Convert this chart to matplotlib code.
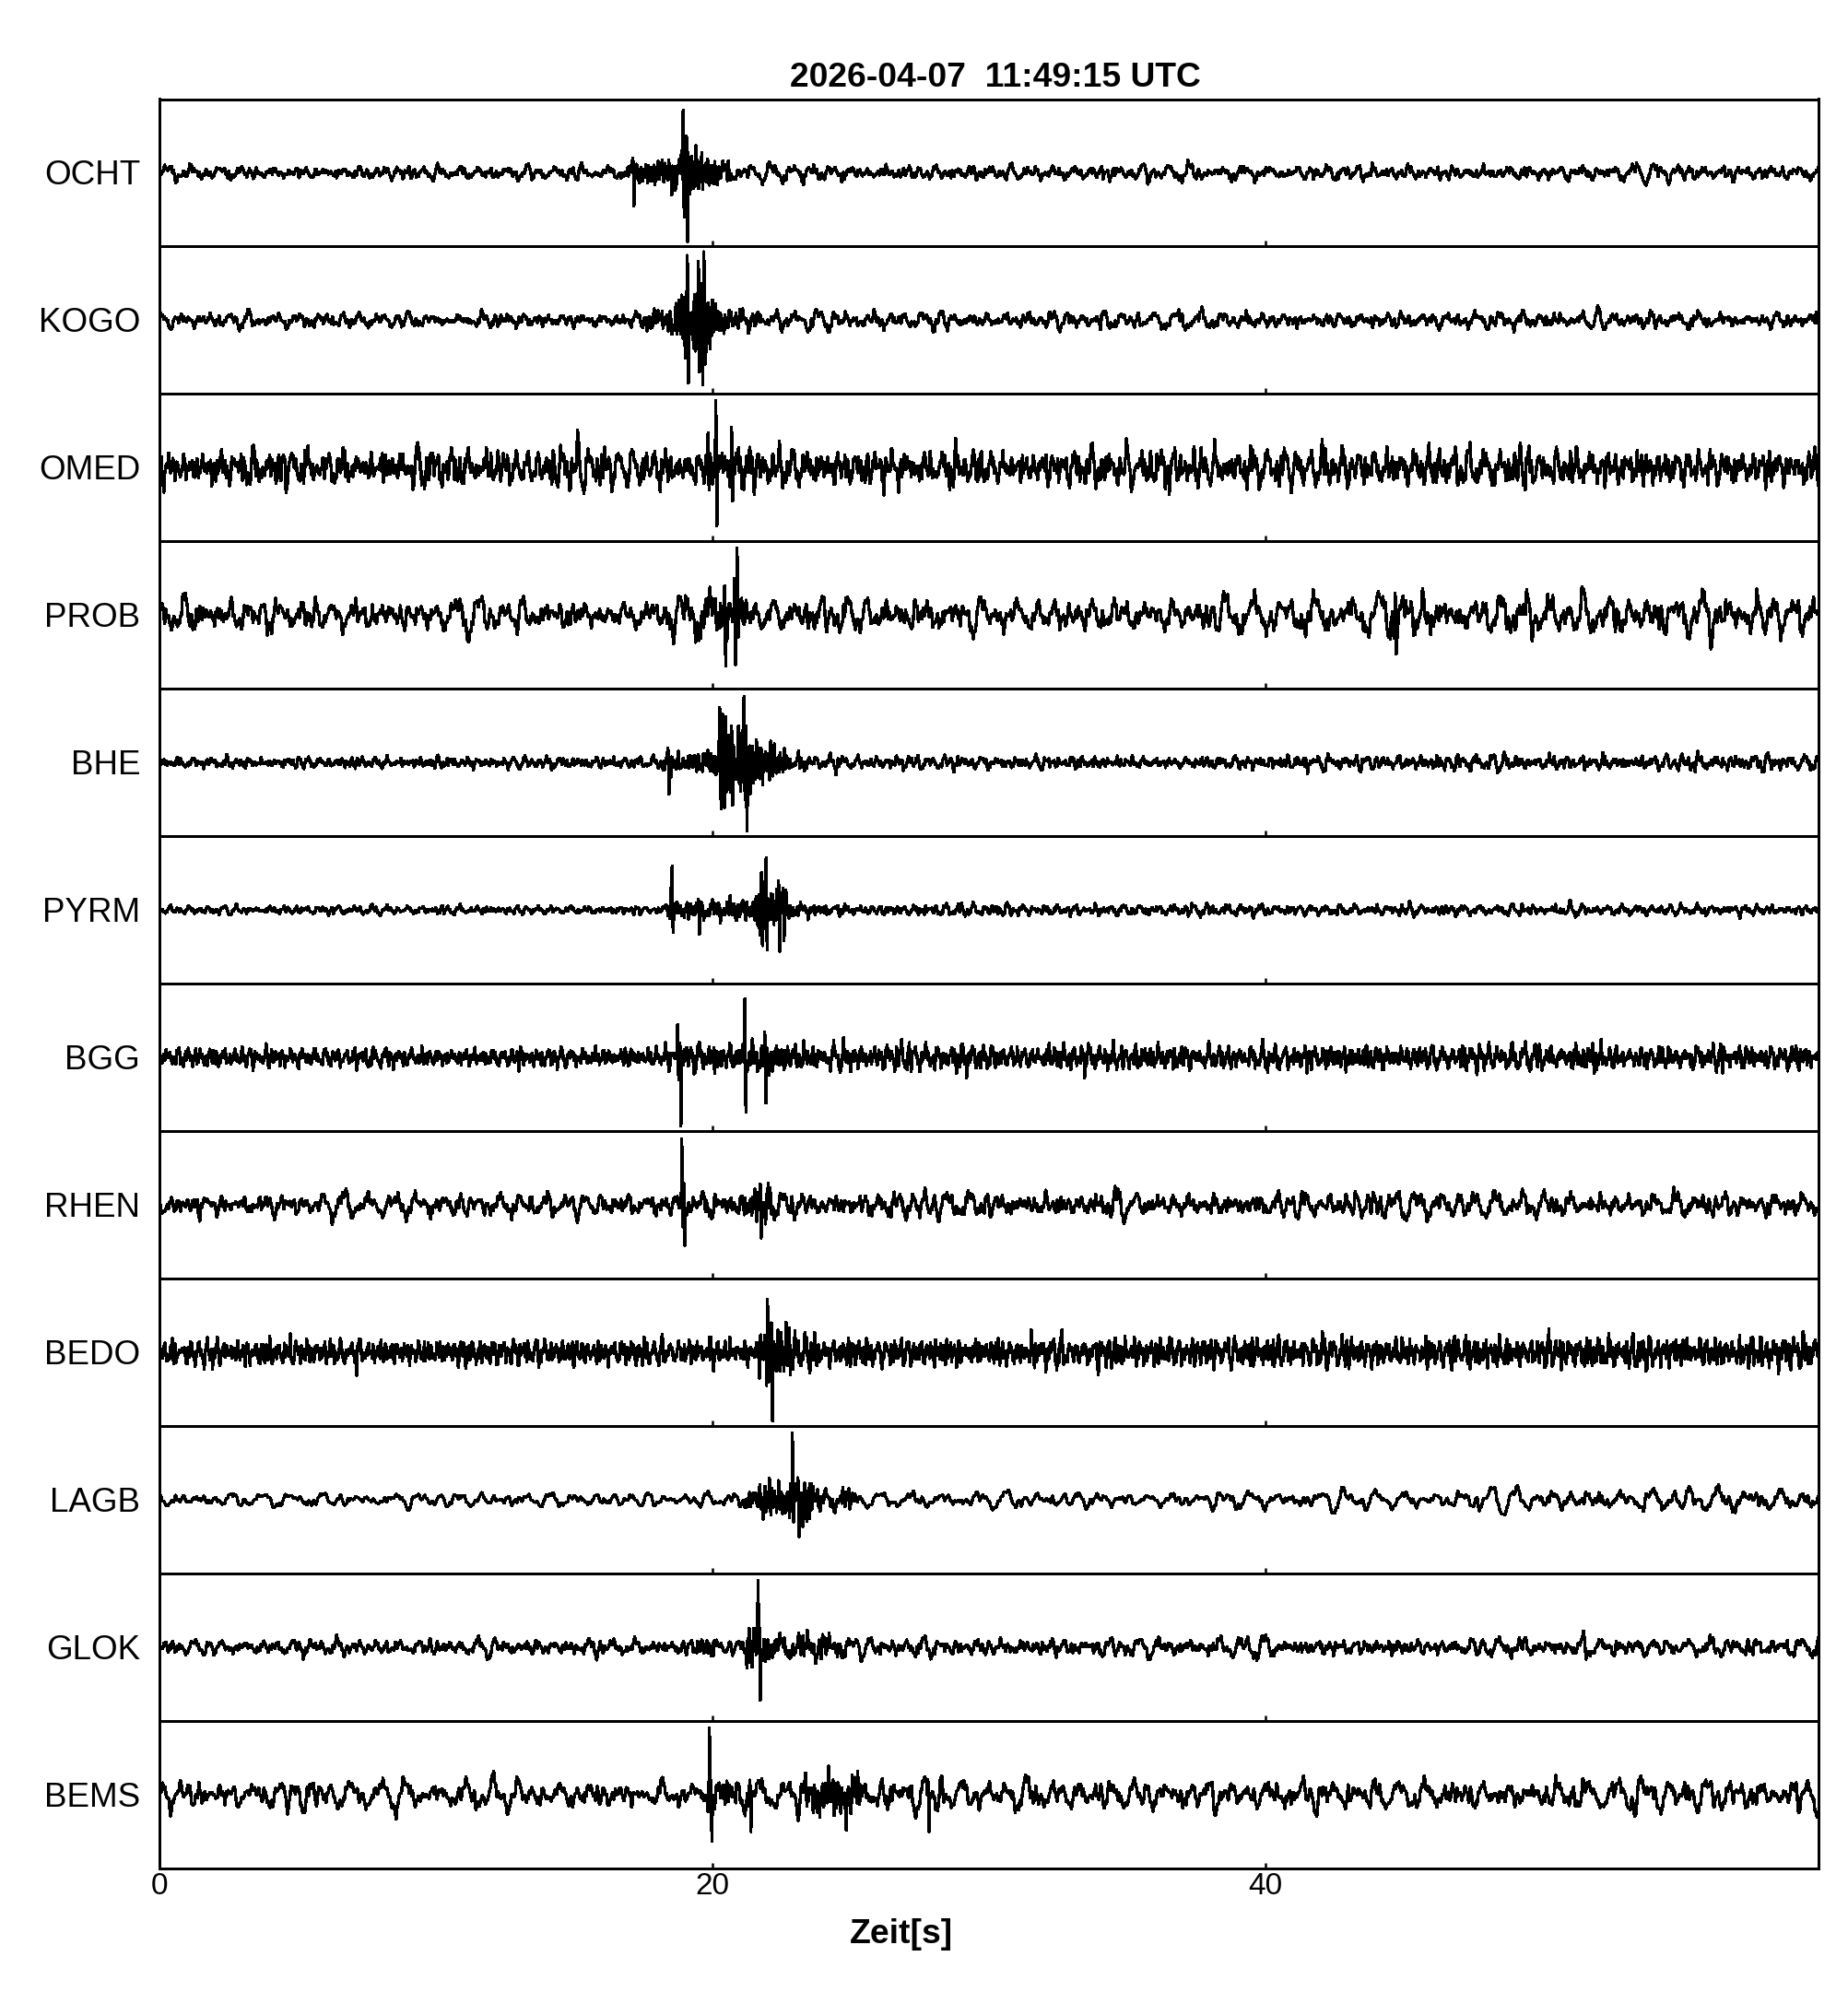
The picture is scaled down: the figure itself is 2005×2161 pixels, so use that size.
import numpy as np
import matplotlib
matplotlib.use("Agg")
import matplotlib.pyplot as plt

# ---------------- data ----------------
STATIONS = ["OCHT", "KOGO", "OMED", "PROB", "BHE", "PYRM",
            "BGG", "RHEN", "BEDO", "LAGB", "GLOK", "BEMS"]
TITLE = "2026-04-07  11:49:15 UTC"
XLABEL = "Zeit[s]"
XTICKS = [0, 20, 40]
XTICK_LABELS = ["0", "20", "40"]
T_END = 60.0

# amplitude envelope knots (time [s], typical peak amplitude as fraction of half panel)
OCHT_env = [(0, 0.11), (8, 0.12), (16.8, 0.11), (17.0, 0.25), (18.2, 0.28), (18.6, 0.45),
            (19.0, 0.55), (19.3, 0.4), (20.0, 0.3), (20.6, 0.22), (21.2, 0.13), (40, 0.12), (60, 0.12)]
KOGO_env = [(0, 0.12), (17.2, 0.12), (17.4, 0.22), (18.6, 0.25), (18.8, 0.6), (19.2, 0.65),
            (19.8, 0.65), (20.2, 0.45), (20.6, 0.3), (21.5, 0.2), (22.5, 0.14), (60, 0.13)]
OMED_env = [(0, 0.3), (19.6, 0.3), (19.8, 0.45), (21.2, 0.45), (21.5, 0.3), (60, 0.3)]
PROB_env = [(0, 0.3), (5, 0.27), (18, 0.25), (20.0, 0.5), (21.0, 0.5), (21.3, 0.3), (37.5, 0.25),
            (38.5, 0.32), (40, 0.27), (43.8, 0.3), (44.3, 0.42), (46, 0.4), (46.5, 0.32), (60, 0.33)]
BHE_env = [(0, 0.09), (18.2, 0.09), (18.3, 0.22), (20.1, 0.25), (20.25, 0.65), (21.3, 0.65),
           (21.7, 0.45), (22.1, 0.38), (22.6, 0.25), (23.2, 0.17), (24, 0.1), (41, 0.1),
           (42.5, 0.13), (60, 0.13)]
PYRM_env = [(0, 0.07), (18.4, 0.07), (18.6, 0.2), (21.4, 0.2), (21.6, 0.5), (22.6, 0.5),
            (22.8, 0.17), (25.5, 0.1), (60, 0.08)]
BGG_env = [(0, 0.15), (18.7, 0.15), (18.9, 0.3), (23.5, 0.3), (24, 0.22), (27, 0.2), (60, 0.19)]
RHEN_env = [(0, 0.18), (18.8, 0.18), (18.95, 0.35), (19.5, 0.3), (20, 0.25), (21.0, 0.25),
            (21.1, 0.42), (22.1, 0.42), (22.4, 0.22), (60, 0.19)]
BEDO_env = [(0, 0.2), (21.5, 0.2), (21.7, 0.55), (22.8, 0.55), (23.5, 0.3), (24, 0.22),
            (35, 0.23), (60, 0.25)]
LAGB_env = [(0, 0.12), (20.9, 0.12), (21.5, 0.3), (22, 0.4), (22.5, 0.45), (23.2, 0.45),
            (23.6, 0.38), (24.0, 0.25), (24.5, 0.28), (25.0, 0.28), (25.5, 0.15), (37, 0.13),
            (40, 0.18), (43, 0.15), (47, 0.15), (49, 0.19), (60, 0.2)]
GLOK_env = [(0, 0.12), (19.3, 0.14), (19.4, 0.25), (20.1, 0.25), (20.3, 0.15), (21.2, 0.15),
            (21.3, 0.5), (21.9, 0.5), (22.1, 0.27), (24.7, 0.25), (25.2, 0.15), (60, 0.14)]
BEMS_env = [(0, 0.24), (17.5, 0.22), (19.7, 0.18), (19.8, 0.38), (21.4, 0.38), (21.6, 0.25),
            (23.0, 0.25), (23.2, 0.48), (25.3, 0.48), (25.6, 0.33), (28, 0.33), (28.5, 0.25),
            (60, 0.26)]

# prominent single peaks: (time [s], upward peak, downward peak)
OCHT_spk = [(17.13, 0.2, 0.45), (18.95, 0.85, 0.6), (19.07, 0.5, 0.93)]
KOGO_spk = [(19.1, 0.88, 0.85), (19.5, 0.8, 0.7), (19.62, 0.5, 0.88), (19.7, 0.93, 0.6)]
OMED_spk = [(19.85, 0.47, 0.3), (20.13, 0.91, 0.79), (20.7, 0.55, 0.45)]
PROB_spk = [(20.45, 0.4, 0.69), (20.8, 0.5, 0.67), (20.9, 0.91, 0.3), (44.7, 0.3, 0.53)]
BHE_spk = [(18.4, 0.2, 0.43), (20.27, 0.75, 0.5), (20.7, 0.5, 0.58), (21.15, 0.9, 0.5),
           (21.22, 0.5, 0.93)]
PYRM_spk = [(18.5, 0.3, 0.92), (18.55, 0.6, 0.3), (19.5, 0.15, 0.33), (21.95, 0.71, 0.54),
            (22.4, 0.4, 0.56)]
BGG_spk = [(18.75, 0.45, 0.3), (18.83, 0.2, 0.93), (21.18, 0.8, 0.74), (21.9, 0.35, 0.62)]
RHEN_spk = [(18.9, 0.9, 0.3), (18.97, 0.3, 0.55)]
BEDO_spk = [(22.0, 0.72, 0.4), (22.14, 0.4, 0.93)]
LAGB_spk = [(22.9, 0.91, 0.3), (23.1, 0.3, 0.5)]
GLOK_spk = [(21.66, 0.91, 0.4), (21.7, 0.3, 0.72)]
BEMS_spk = [(19.9, 0.91, 0.3), (19.95, 0.2, 0.63), (21.36, 0.2, 0.5), (27.8, 0.2, 0.5)]

# dominant noise band per station: (f_min Hz, f_max Hz, spectral slope)
OCHT_band = (1.0, 20.0, 0.45)
KOGO_band = (1.0, 20.0, 0.45)
OMED_band = (1.5, 20.0, 0.35)
PROB_band = (0.8, 18.0, 0.45)
BHE_band = (1.5, 22.0, 0.35)
PYRM_band = (1.5, 20.0, 0.45)
BGG_band = (2.0, 25.0, 0.25)
RHEN_band = (1.0, 18.0, 0.45)
BEDO_band = (2.5, 25.0, 0.25)
LAGB_band = (0.8, 12.0, 0.75)
GLOK_band = (1.0, 20.0, 0.45)
BEMS_band = (0.8, 16.0, 0.5)
# band of the earthquake signal itself (Hz)
EVENT_band = (5.0, 22.0, 0.0)

ENVS = [OCHT_env, KOGO_env, OMED_env, PROB_env, BHE_env, PYRM_env,
        BGG_env, RHEN_env, BEDO_env, LAGB_env, GLOK_env, BEMS_env]
SPKS = [OCHT_spk, KOGO_spk, OMED_spk, PROB_spk, BHE_spk, PYRM_spk,
        BGG_spk, RHEN_spk, BEDO_spk, LAGB_spk, GLOK_spk, BEMS_spk]
BANDS = [OCHT_band, KOGO_band, OMED_band, PROB_band, BHE_band, PYRM_band,
         BGG_band, RHEN_band, BEDO_band, LAGB_band, GLOK_band, BEMS_band]

# ---------------- build traces ----------------
DT = 0.01
t = np.arange(0, T_END + DT / 2, DT)


def carrier(idx, band, shift):
    fmin, fmax, slope = band
    K = 90
    tt = t + 1000.0 + 137.0 * idx + shift
    y = np.zeros_like(t)
    for k in range(K):
        frac = (k + ((k * 0.6180339887 + idx * 0.31) % 1.0) * 0.9) / K
        f = fmin * (fmax / fmin) ** frac
        ph = 2 * np.pi * ((k * 0.7548776662 + idx * 0.5698402910) % 1.0)
        y += f ** (-slope) * np.sin(2 * np.pi * f * tt + ph)
    return y / (2.5 * y.std())


def trace(idx):
    env_t = [p[0] for p in ENVS[idx]]
    env_a = [p[1] for p in ENVS[idx]]
    env = np.interp(t, env_t, env_a)
    base = np.median(env)
    w = np.clip((env - 1.25 * base) / env, 0, 1) ** 0.7
    c_noise = carrier(idx, BANDS[idx], 0.0)
    c_event = carrier(idx, EVENT_band, 333.0)
    y = env * ((1 - w) * c_noise + w * 1.1 * c_event)
    for (ts, up, dn) in SPKS[idx]:
        # one sharp cycle: positive peak at ts, negative peak 0.04 s later
        w1 = (t >= ts - 0.02) & (t < ts + 0.02)
        w2 = (t >= ts + 0.02) & (t < ts + 0.06)
        y[w1] = up * np.sin(np.pi * (t[w1] - (ts - 0.02)) / 0.04)
        y[w2] = -dn * np.sin(np.pi * (t[w2] - (ts + 0.02)) / 0.04)
        i = int(round(ts / DT))
        y[i] = up
        y[i + 4] = -dn
    return y


# ---------------- layout ----------------
FW, FH = 2005, 2161
fig = plt.figure(figsize=(FW / 100, FH / 100), dpi=100)
plt.rcParams["font.family"] = ["Liberation Sans", "DejaVu Sans"]

L = 172.7 / FW
R = 1972.7 / FW
TOP = 1 - 107.5 / FH
BOT = 1 - 2027.0 / FH
n = len(STATIONS)
H = (TOP - BOT) / n

for i, name in enumerate(STATIONS):
    bottom = BOT + (n - 1 - i) * H
    ax = fig.add_axes([L, bottom, R - L, H])
    ax.plot(t, trace(i), color="black", lw=1.7, antialiased=False)
    ax.set_xlim(0, T_END)
    ax.set_ylim(-1, 1)
    ax.set_yticks([])
    ax.set_xticks(XTICKS)
    ax.set_xticklabels(XTICK_LABELS)
    ax.tick_params(axis="x", direction="in", length=4.5, width=1.8, top=False,
                   labelbottom=(i == n - 1), labelsize=24, pad=3)
    for sp in ax.spines.values():
        sp.set_linewidth(2.16)
    yc = bottom + H / 2
    fig.text(152 / FW, yc - 13.0 / FH, name, ha="right", va="baseline", fontsize=26.5)

fig.text(1080 / FW, 1 - 94.3 / FH, TITLE, ha="center", va="baseline",
         fontsize=26.8, fontweight="bold")
fig.text(978 / FW, 1 - 2107.7 / FH, XLABEL, ha="center", va="baseline",
         fontsize=26.8, fontweight="bold")

fig.savefig("out.png", dpi=100, facecolor="white")
